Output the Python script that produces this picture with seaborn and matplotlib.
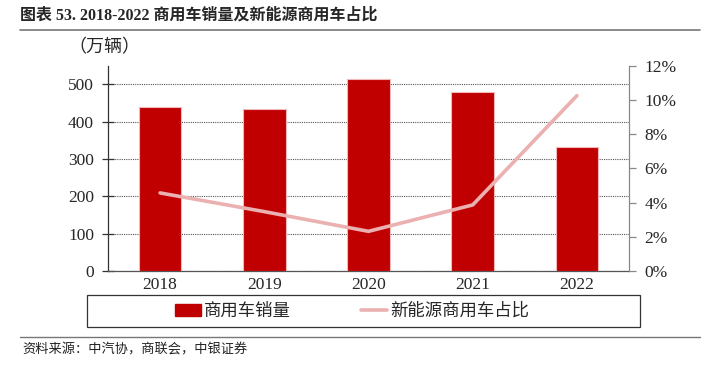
import numpy as np
import pandas as pd
import matplotlib
matplotlib.use("Agg")
import matplotlib.pyplot as plt
from matplotlib.patches import Rectangle
from matplotlib.lines import Line2D
import seaborn as sns

years = ["2018", "2019", "2020", "2021", "2022"]
sales = [438, 433, 514, 480, 331]          # 商用车销量（万辆）
nev_share = [4.57, 3.48, 2.33, 3.87, 10.24]  # 新能源商用车占比（%）

sns.set_theme(style="white")
cjk = ["Noto Sans CJK SC", "DejaVu Sans"]
mixed = ["Liberation Serif", "Noto Sans CJK SC", "DejaVu Sans"]
num_font = "Liberation Serif"
plt.rcParams["font.family"] = cjk

bar_color = "#C00000"
line_color = "#EBB0B0"

df = pd.DataFrame({"year": years, "sales": sales, "share": nev_share})

fig = plt.figure(figsize=(7.12, 3.65), dpi=100)
ax = fig.add_axes([108 / 712, 1 - 271.3 / 365, 521 / 712, 205.8 / 365])

sns.barplot(data=df, x="year", y="sales", color=bar_color, width=0.41,
            edgecolor="#F0B8B8", linewidth=0.8, saturation=1, ax=ax, zorder=3)
ax.set_xlim(-0.5, 4.5)
ax.set_ylim(0, 550)
ax.set_yticks(range(0, 501, 100))
ax.set_xlabel("")
ax.set_ylabel("")
ax.yaxis.grid(True, linestyle=(0, (1, 1)), color="#555555", linewidth=0.8, zorder=0)
ax.set_axisbelow(True)

ax2 = ax.twinx()
sns.lineplot(x=np.arange(len(years)), y=df["share"], color=line_color,
             linewidth=2.6, ax=ax2, zorder=4)
ax2.set_ylim(0, 12)
ax2.set_yticks(range(0, 13, 2))
ax2.set_yticklabels([f"{v}%" for v in range(0, 13, 2)])
ax2.set_ylabel("")
ax2.set_xlim(-0.5, 4.5)

for a in (ax, ax2):
    a.spines["top"].set_visible(False)
ax.spines["right"].set_visible(False)
ax2.spines["left"].set_visible(False)
ax2.spines["bottom"].set_visible(False)
ax.spines["left"].set_color("#333333")
ax.spines["bottom"].set_color("#555555")
ax2.spines["right"].set_color("#888888")
for sp in (ax.spines["left"], ax.spines["bottom"], ax2.spines["right"]):
    sp.set_linewidth(0.9)

ax.set_xticks(range(5))
ax.set_xticklabels(years, fontname=num_font, fontsize=12.5)
ax.set_xticks(np.arange(-0.5, 5, 1), minor=True)
ax.tick_params(axis="x", which="major", length=0, pad=4)
ax.tick_params(axis="x", which="minor", length=5, direction="out", color="#777777", width=0.9)
ax.tick_params(axis="y", length=8, direction="inout", color="#333333", width=0.9, pad=6)
ax2.tick_params(axis="y", length=5, direction="out", color="#888888", width=0.9, pad=6)
for lab in ax.get_yticklabels() + ax2.get_yticklabels():
    lab.set_fontname(num_font)
    lab.set_fontsize(12.5)

# title, unit, rules, source
fig.text(20 / 712, 1 - 16 / 365, "图表 53. 2018-2022 商用车销量及新能源商用车占比",
         fontsize=11.5, fontweight="bold", va="center", ha="left", family=mixed)
fig.add_artist(Line2D([20 / 712, 700 / 712], [1 - 30 / 365] * 2, color="#777777", lw=1.2))
fig.text(68 / 712, 1 - 47 / 365, "（万辆）", fontsize=13, va="center", ha="left", family=cjk)
fig.add_artist(Line2D([20 / 712, 700 / 712], [1 - 337 / 365] * 2, color="#777777", lw=1.0))
fig.text(22 / 712, 1 - 350 / 365, "资料来源：中汽协，商联会，中银证券", fontsize=9.5,
         style="italic", va="center", ha="left", family=cjk, color="#222222")

# legend with frame
fig.add_artist(Rectangle((87 / 712, 1 - 327 / 365), 553 / 712, 32 / 365,
                         transform=fig.transFigure, fill=False, edgecolor="#333333", lw=0.9))
handles = [Rectangle((0, 0), 1, 1, color=bar_color),
           Line2D([0], [0], color=line_color, lw=2.6)]
fig.legend(handles, ["商用车销量", "新能源商用车占比"], loc="center",
           bbox_to_anchor=(352 / 712, 1 - 311 / 365), ncol=2, frameon=False,
           prop={"family": cjk, "size": 12.5}, handlelength=1.5, handleheight=0.7,
           columnspacing=4.0, handletextpad=0.2)

fig.savefig("out.png", dpi=100)
